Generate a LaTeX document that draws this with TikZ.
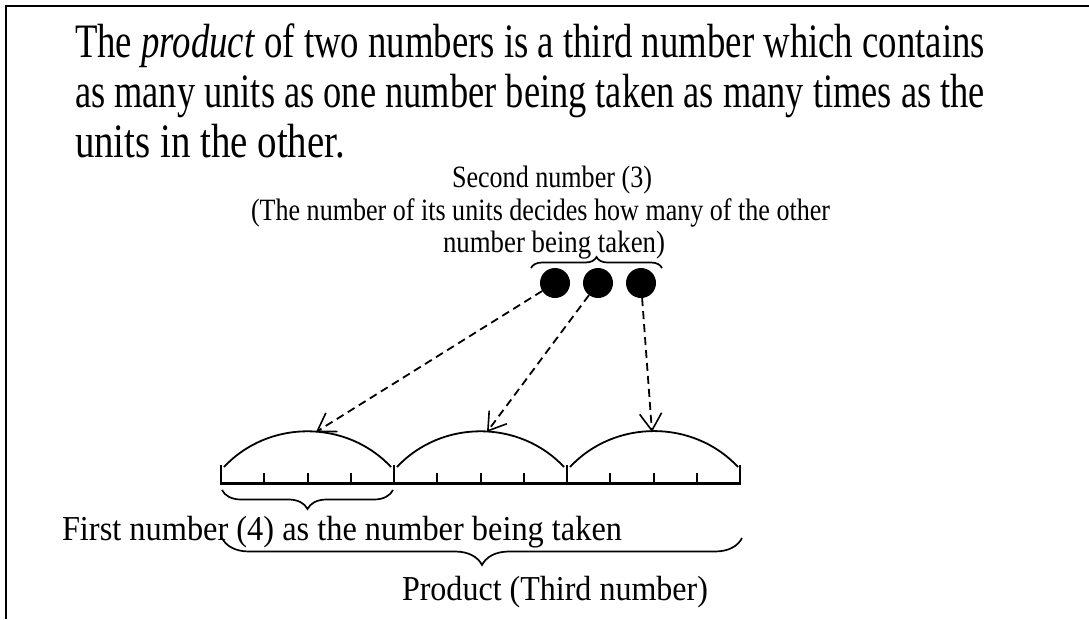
\documentclass[tikz,border=0pt]{standalone}
\usepackage{fontspec}
\setmainfont{Liberation Serif}
\usetikzlibrary{arrows.meta,decorations.pathreplacing}
\newcommand\fitw[2]{\resizebox{#1}{\height}{#2}}
\begin{document}
\begin{tikzpicture}[x=1pt,y=-1pt,
  txt/.style={inner sep=0pt,outer sep=0pt},
  dot/.style={circle,fill=black,minimum size=30pt,inner sep=0pt},
  tick/.style={line width=2pt},
  hump/.style={line width=1.8pt},
  ptr/.style={line width=1.8pt,dash pattern=on 8pt off 5pt,-{Straight Barb[length=17pt,width=22pt,line width=1.6pt]}},
  brc/.style={line width=1.7pt,decorate,decoration={brace,amplitude=#1}}]
\useasboundingbox (0,0) rectangle (1089,619);
% frame
\draw[line width=2.5pt] (1089,6) -- (6,6) -- (6,619);
% heading text
\node[txt,anchor=base west] (l1) at (75,57) {\fontsize{48}{50}\selectfont\fitw{910pt}{The \textit{product} of two numbers is a third number which contains}};
\node[txt,anchor=base west] (l2) at (75,107) {\fontsize{48}{50}\selectfont\fitw{910pt}{as many units as one number being taken as many times as the}};
\node[txt,anchor=base west] (l3) at (75,157) {\fontsize{48}{50}\selectfont\fitw{270pt}{units in the other.}};
% second number labels
\node[txt,anchor=base west] (s1) at (452,187) {\fontsize{31}{33}\selectfont\fitw{200pt}{Second number (3)}};
\node[txt,anchor=base west] (s2) at (251,220) {\fontsize{31}{33}\selectfont\fitw{579pt}{(The number of its units decides how many of the other}};
\node[txt,anchor=base west] (s3) at (443,252) {\fontsize{31}{33}\selectfont\fitw{222pt}{number being taken)}};
% dots
\node[dot] (d1) at (555,283) {};
\node[dot] (d2) at (598,283) {};
\node[dot] (d3) at (641,283) {};
\draw[brc=11pt] (531,268) -- (662,268);
% ruler
\draw[line width=3pt] (220,483) -- (741,483);
\foreach \i in {0,...,12}{
  \pgfmathsetmacro\xx{221+\i*43.25}
  \draw[tick] (\xx,483) -- (\xx,473);
}
\foreach \i in {0,4,8,12}{
  \pgfmathsetmacro\xx{221+\i*43.25}
  \draw[tick] (\xx,483) -- (\xx,465);
}
% humps
\coordinate (h1) at (316,432);
\coordinate (h2) at (487,432);
\coordinate (h3) at (652,432);
\draw[hump] (224,467) to[bend left=47] (391,467);
\draw[hump] (397,467) to[bend left=47] (564,467);
\draw[hump] (570,467) to[bend left=47] (738,467);
% pointers
\draw[ptr] (d1) -- (h1);
\draw[ptr] (d2) -- (h2);
\draw[ptr] (d3) -- (h3);
% lower braces
\draw[brc=19pt] (393,490) -- (222,490);
\draw[brc=27pt] (742,538) -- (222,538);
\node[txt,anchor=base west] (f1) at (62,540) {\fontsize{35}{38}\selectfont\fitw{560pt}{First number (4) as the number being taken}};
\node[txt,anchor=base west] (p1) at (402,600) {\fontsize{35}{38}\selectfont\fitw{306pt}{Product (Third number)}};
\end{tikzpicture}
\end{document}
